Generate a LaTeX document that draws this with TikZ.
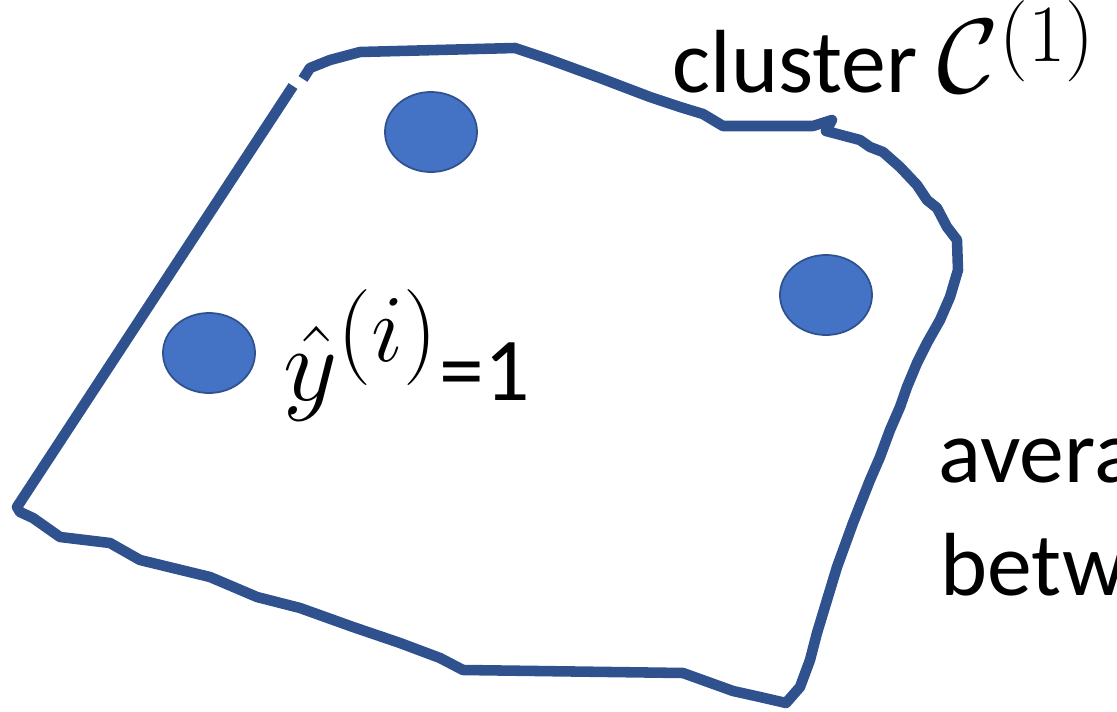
\RequirePackage{fix-cm}
\documentclass[tikz,border=0pt]{standalone}
\usepackage{fontspec}
\setmainfont{Carlito}
\usepackage{amsmath}
\usetikzlibrary{shapes.geometric}
\definecolor{outline}{RGB}{47,82,143}
\definecolor{dotfill}{RGB}{68,114,196}
\newcommand{\bigsup}[2][1.3]{\scalebox{#1}{$\scriptstyle(#2)$}}
\newcommand{\mathbig}{\fontsize{30}{34}\selectfont}
\tikzset{
  point/.style={ellipse, draw=outline, line width=0.5pt, fill=dotfill,
    minimum width=0.92cm, minimum height=0.8cm, inner sep=0pt},
  lbl/.style={anchor=base west, inner sep=0pt, font=\fontsize{25.5}{30}\selectfont},
  hull/.style={draw=outline, line width=3pt, line join=round}
}

\begin{document}
\begin{tikzpicture}[x=0.01cm, y=-0.01cm]
    \useasboundingbox (0,0) rectangle (1117,712);

    % hand drawn boundary of the cluster
    \path[hull] (303,79) -- (310,68) -- (330,60) -- (360,52) -- (515,48) -- (548,59)
        -- (600,78) -- (650,97) -- (680,107) -- (703,114) -- (723,126) -- (813,126)
        -- (832,120) -- (826,131) -- (860,140) -- (870,147) -- (883,152) -- (900,167)
        -- (917,185) -- (927,200) -- (937,208) -- (947,227) -- (957,240) -- (958,270)
        -- (950,297) -- (940,320) -- (927,343) -- (917,363) -- (907,387) -- (900,407)
        -- (890,430) -- (880,457) -- (870,480) -- (853,523) -- (837,567) -- (827,600)
        -- (817,633) -- (810,660) -- (800,687) -- (786,703) -- (760,697) -- (733,691)
        -- (683,673) -- (463,670) -- (440,658) -- (400,643) -- (353,627) -- (300,608)
        -- (257,597) -- (210,577) -- (140,560) -- (110,543) -- (60,537) -- (33,518)
        -- (20,512) -- (17,507) -- (293,86);

    % data points
    \node[point] (top) at (431,132) {};
    \node[point] (left) at (209,353) {};
    \node[point] (right) at (826,295) {};

    % labels
    \node[lbl] (cluster) at (672,93)
        {cluster {\mathbig$\mathcal{C}^{\raisebox{-5pt}{\bigsup[1.1]{1}}}$}};
    \node[lbl] (yhat) at (283,400) {{\mathbig$\hat{y}^{\bigsup{i}}$}=1};
    \node[lbl] (avg) at (938,482) {avera};
    \node[lbl] (betw) at (940,595) {betw};
\end{tikzpicture}
\end{document}
